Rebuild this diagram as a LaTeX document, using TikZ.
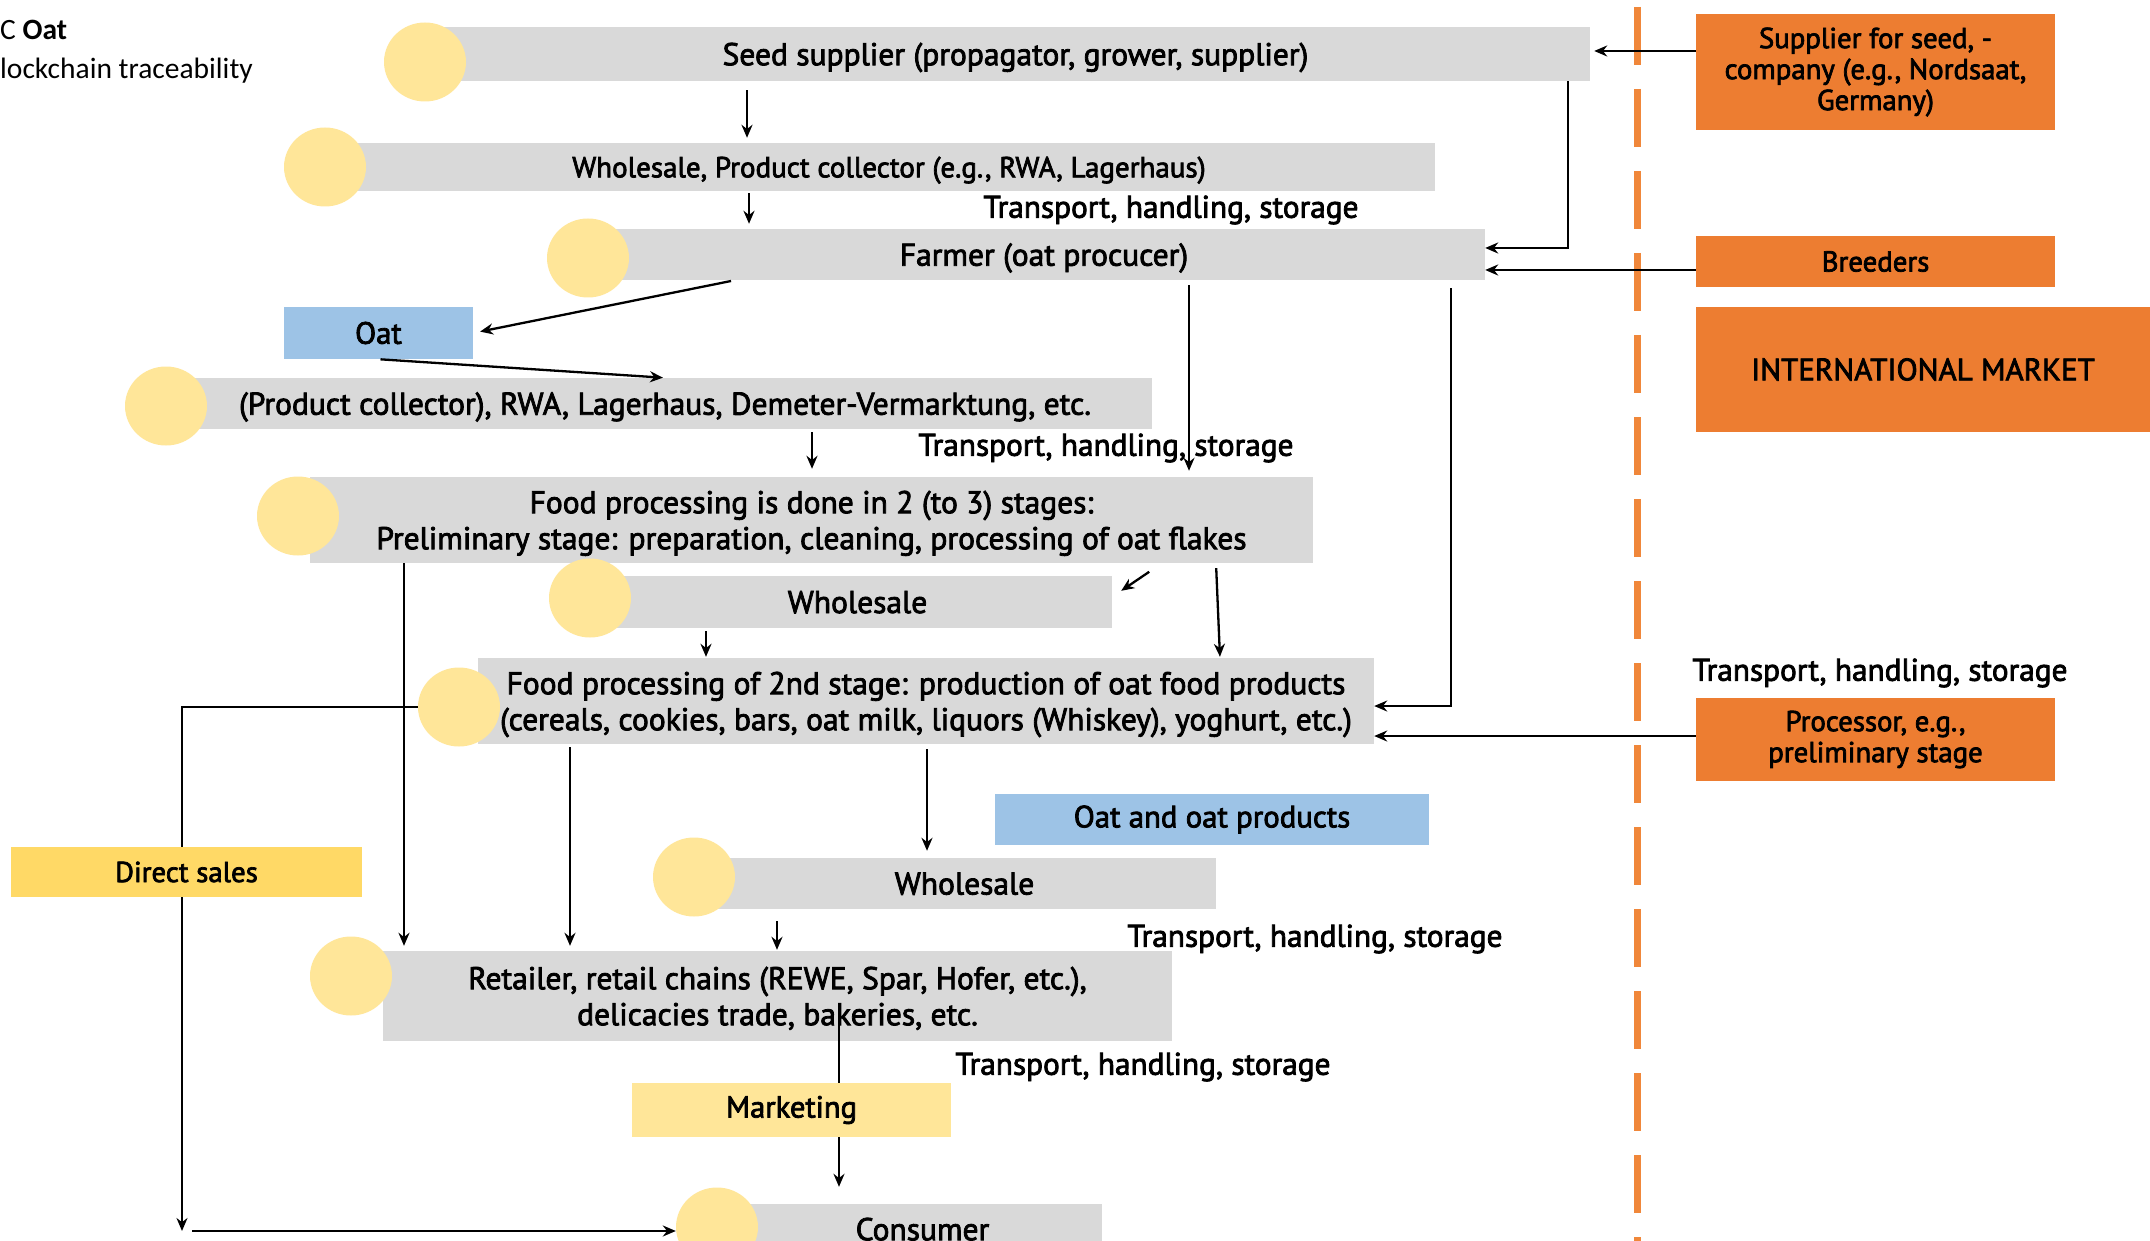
\documentclass[tikz,border=0pt]{standalone}
\usepackage{fontspec}
\setmainfont{PT Sans}[FakeBold=2.5]
\newfontfamily\titlefont{Carlito}
\usetikzlibrary{shapes.geometric,arrows.meta,calc}
\definecolor{barGray}{HTML}{D9D9D9}
\definecolor{dotYellow}{HTML}{FFE699}
\definecolor{orangeBox}{HTML}{ED7D31}
\definecolor{dashOrange}{HTML}{F0873A}
\definecolor{blueBox}{HTML}{9DC3E6}
\definecolor{goldBox}{HTML}{FFD966}
\newcommand{\fsMain}{\fontsize{31.5}{36}\selectfont}
\newcommand{\fsSmall}{\fontsize{28.8}{31}\selectfont}
\tikzset{
  bar/.style={rectangle, fill=barGray, inner sep=0pt, align=center, font=\fsMain, text depth=0pt},
  dot/.style={ellipse, fill=dotYellow, inner sep=0pt, minimum width=82pt, minimum height=79pt},
  obox/.style={rectangle, fill=orangeBox, inner sep=0pt, align=center, font=\fsSmall, minimum width=359pt},
  bbox/.style={rectangle, fill=blueBox, inner sep=0pt, align=center, font=\fontsize{30.8}{36}\selectfont},
  ybox/.style={rectangle, inner sep=0pt, align=center, font=\fontsize{30.5}{36}\selectfont},
  lbl/.style={inner sep=0pt, font=\fontsize{31.3}{36}\selectfont},
  arr/.style={line width=2.3pt, -{Stealth[length=13pt,width=11pt]}},
  ln/.style={line width=2.3pt}
}
\begin{document}
\begin{tikzpicture}[x=1pt,y=-1pt]
\useasboundingbox (0,0) rectangle (2150,1241);
\fill[white] (0,0) rectangle (2150,1241);

% title
\node[anchor=west, inner sep=0pt, font=\titlefont\fontsize{29.5}{34}\selectfont] (title1) at (0,30) {C \textbf{Oat}};
\node[anchor=west, inner sep=0pt, font=\titlefont\fontsize{29.5}{34}\selectfont] (title2) at (0,71) {lockchain traceability};

% dashed border line
\draw[dashOrange, line width=7pt, dash pattern=on 58pt off 24pt] (1637,7) -- (1637,1241);

% bars
\node[bar, minimum width=1149pt, minimum height=54pt] (seed) at (1015.5,54) {Seed supplier (propagator, grower, supplier)};
\node[dot] (cseed) at (425,62) {};
\node[bar, minimum width=1092pt, minimum height=48pt, font=\fontsize{29}{34}\selectfont] (ws1) at (889,167) {Wholesale, Product collector (e.g., RWA, Lagerhaus)};
\node[dot] (cws1) at (325,167) {};
\node[bar, minimum width=882pt, minimum height=51pt] (farmer) at (1044,254.5) {Farmer (oat procucer)};
\node[dot] (cfarmer) at (588,258) {};
\node[bbox, minimum width=189pt, minimum height=52pt] (oat) at (378.5,333) {Oat};
\node[bar, minimum width=974pt, minimum height=51pt] (coll) at (665,403.5) {(Product collector), RWA, Lagerhaus, Demeter-Vermarktung, etc.};
\node[dot] (ccoll) at (166,406) {};
\node[bar, minimum width=1003pt, minimum height=86pt] (fp1) at (811.5,520) {Food processing is done in 2 (to 3) stages:\\Preliminary stage: preparation, cleaning, processing of oat flakes};
\node[dot] (cfp1) at (298,516) {};
\node[bar, minimum width=509pt, minimum height=52pt] (ws2) at (857.5,602) {Wholesale};
\node[dot] (cws2) at (590,598) {};
\node[bar, minimum width=896pt, minimum height=86pt] (fp2) at (926,701) {Food processing of 2nd stage: production of oat food products\\(cereals, cookies, bars, oat milk, liquors (Whiskey), yoghurt, etc.)};
\node[dot] (cfp2) at (459,707) {};
\node[bbox, minimum width=434pt, minimum height=51pt] (oatprod) at (1212,819.5) {Oat and oat products};
\node[bar, minimum width=503pt, minimum height=51pt] (ws3) at (964.5,883.5) {Wholesale};
\node[dot] (cws3) at (694,877) {};
\node[bar, minimum width=789pt, minimum height=90pt] (retail) at (777.5,996) {Retailer, retail chains (REWE, Spar, Hofer, etc.),\\delicacies trade, bakeries, etc.};
\node[dot] (cretail) at (351,976) {};
\node[ybox, fill=dotYellow, minimum width=319pt, minimum height=54pt] (market) at (791.5,1110) {Marketing};
\node[bar, minimum width=389pt, minimum height=50pt] (consumer) at (907.5,1229) {\hspace*{30pt}Consumer};
\node[dot] (ccons) at (717,1227) {};

% right side boxes
\node[obox, minimum height=116pt] (supplier) at (1875.5,72) {Supplier for seed, -\\company (e.g., Nordsaat,\\Germany)};
\node[obox, minimum height=51pt] (breeders) at (1875.5,261.5) {Breeders};
\node[obox, minimum width=454pt, minimum height=125pt, font=\fontsize{31}{36}\selectfont] (intl) at (1923,369.5) {INTERNATIONAL MARKET};
\node[obox, minimum height=83pt] (processor) at (1875.5,739.5) {Processor, e.g.,\\preliminary stage};

% labels
\node[lbl] (th1) at (1171,210) {Transport, handling, storage};
\node[lbl] (th2) at (1106,448) {Transport, handling, storage};
\node[lbl] (th3) at (1880,673) {Transport, handling, storage};
\node[lbl] (th4) at (1315,939) {Transport, handling, storage};
\node[lbl] (th5) at (1143,1067) {Transport, handling, storage};

% connectors
\draw[arr, shorten <=9pt, shorten >=5pt] (seed.south -| 747,0) -- (ws1.north -| 747,0);
\draw[arr, shorten <=2pt, shorten >=5pt] (ws1.south -| 749,0) -- (farmer.north -| 749,0);
\draw[arr] (seed.south -| 1568,0) |- ([yshift=6.5pt]farmer.east);
\draw[arr] (breeders.west |- 0,270) -- (farmer.east |- 0,270);
\draw[arr] (supplier.west |- 0,51) -- ([xshift=4pt]seed.east |- 0,51);
\draw[arr, shorten <=4pt, shorten >=7pt] (farmer.south -| 735,0) -- (oat.east);
\draw[arr, shorten <=2pt, shorten >=2pt] (oat.south) -- (coll.north);
\draw[arr, shorten <=3pt, shorten >=8pt] (coll.south -| 812,0) -- (fp1.north -| 812,0);
\draw[arr, shorten <=5pt, shorten >=6pt] (farmer.south -| 1189,0) -- (fp1.north -| 1189,0);
\draw[arr, shorten <=8pt] (farmer.south -| 1451,0) |- ([yshift=-5pt]fp2.east);
\draw[arr] ($(ws2.north east)+(37,-4)$) -- ($(ws2.north east)+(9,15)$);
\draw[arr, shorten <=5pt, shorten >=1pt] (fp1.south -| 1216,0) -- (fp2.north -| 1220,0);
\draw[arr, shorten <=3pt, shorten >=1pt] (ws2.south -| 706,0) -- (fp2.north -| 706,0);
\draw[arr] (processor.west |- 0,736) -- (fp2.east |- 0,736);
\draw[arr, shorten <=5pt, shorten >=7pt] (fp2.south -| 927,0) -- (ws3.north -| 927,0);
\draw[arr, shorten >=5pt] (fp1.south -| 404,0) -- (retail.north -| 404,0);
\draw[arr, shorten <=3pt, shorten >=5pt] (fp2.south -| 570,0) -- (retail.north -| 570,0);
\draw[arr, shorten <=12pt, shorten >=1pt] (ws3.south -| 777,0) -- (retail.north -| 777,0);
\draw[ln] (retail.center -| 839,0) ++(0,14) -- (market.north -| 839,0);
\draw[arr, shorten >=17pt] (market.south -| 839,0) -- (consumer.north -| 839,0);

\coordinate (dsend) at (182,1231);
\draw[arr] (cfp2.west) -| (dsend);
\draw[arr] ([xshift=10pt]dsend) -- (dsend -| ccons.west);
\node[ybox, fill=goldBox, minimum width=351pt, minimum height=50pt, font=\fontsize{28.8}{34}\selectfont] (direct) at (186.5,872) {Direct sales};
\end{tikzpicture}
\end{document}
